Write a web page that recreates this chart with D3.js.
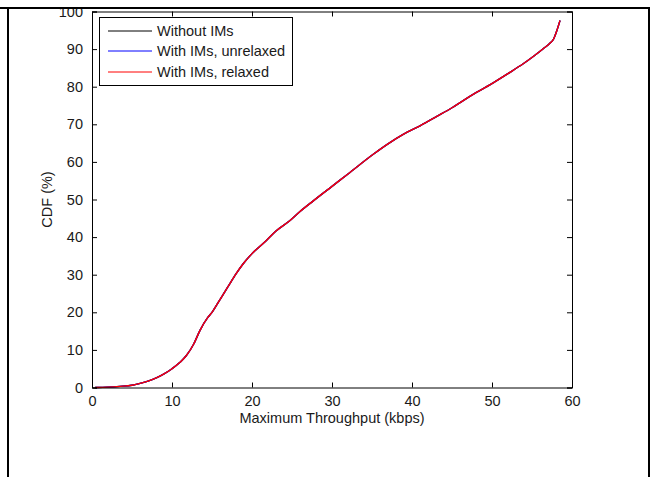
<!DOCTYPE html>
<html>
<head>
<meta charset="utf-8">
<script src="https://cdn.jsdelivr.net/npm/d3@7"></script>
<style>
  body { margin: 0; background: #fff; }
  svg { display: block; font-family: "Liberation Sans", Arial, sans-serif; }
</style>
</head>
<body>
<svg width="650" height="477"></svg>
<script>
// throughput (kbps) sample points and CDF (%) for each case
var throughput = [0.4, 2, 3.5, 5, 6, 7, 8.1, 9, 10, 11, 11.8, 12.7, 13.5, 14.5, 15, 16, 17, 18, 18.9, 20, 21.8, 23, 24.75, 26, 27.7, 30, 32, 35.2, 37, 38.9, 41, 43.1, 45, 46.4, 48, 50.2, 52, 53.9, 55.2, 56.4, 57.2, 57.7, 58.1, 58.5];
var cdfWithout = [0, 0.1, 0.3, 0.6, 1.1, 1.7, 2.6, 3.6, 5, 6.7, 8.5, 11.5, 15.2, 18.7, 20, 23.4, 26.8, 30.2, 32.9, 35.6, 39.1, 41.6, 44.4, 46.8, 49.7, 53.5, 56.8, 62.1, 64.8, 67.3, 69.6, 72.1, 74.4, 76.3, 78.4, 81.1, 83.5, 86.1, 88.1, 90.1, 91.5, 92.7, 94.9, 97.6];
var cdfUnrelaxed = [0, 0.1, 0.3, 0.6, 1.1, 1.7, 2.6, 3.6, 5, 6.7, 8.5, 11.5, 15.2, 18.7, 20, 23.4, 26.8, 30.2, 32.9, 35.6, 39.1, 41.6, 44.4, 46.8, 49.7, 53.5, 56.8, 62.1, 64.8, 67.3, 69.6, 72.1, 74.4, 76.3, 78.4, 81.1, 83.5, 86.1, 88.1, 90.1, 91.5, 92.7, 94.9, 97.6];
var cdfRelaxed = [0, 0.1, 0.3, 0.6, 1.1, 1.7, 2.6, 3.6, 5, 6.7, 8.5, 11.5, 15.2, 18.7, 20, 23.4, 26.8, 30.2, 32.9, 35.6, 39.1, 41.6, 44.4, 46.8, 49.7, 53.5, 56.8, 62.1, 64.8, 67.3, 69.6, 72.1, 74.4, 76.3, 78.4, 81.1, 83.5, 86.1, 88.1, 90.1, 91.5, 92.7, 94.9, 97.6];

var seriesNames = ["Without IMs", "With IMs, unrelaxed", "With IMs, relaxed"];
var seriesColors = ["#000000", "#0000ff", "#ff0000"];
var xTicks = [0, 10, 20, 30, 40, 50, 60];
var yTicks = [0, 10, 20, 30, 40, 50, 60, 70, 80, 90, 100];

function drawChart() {
  var svg = d3.select("svg");
  var fontSize = "14.5px";
  var left = 92, right = 572, plotTop = 11.5, bottom = 387.5;

  var x = d3.scaleLinear().domain([0, 60]).range([left, right]);
  var y = d3.scaleLinear().domain([0, 100]).range([bottom, plotTop]);

  var g = svg.append("g");

  // curves, drawn in order so the red one ends up on top
  var series = [cdfWithout, cdfUnrelaxed, cdfRelaxed];
  var line = d3.line()
      .curve(d3.curveMonotoneX)
      .x(function(d) { return x(d[0]); })
      .y(function(d) { return y(d[1]); });

  series.forEach(function(s, i) {
    g.append("path")
        .datum(throughput.map(function(t, j) { return [t, s[j]]; }))
        .attr("d", line)
        .attr("fill", "none")
        .attr("stroke", seriesColors[i])
        .attr("stroke-width", 1.4);
  });

  // axes, matlab style: ticks inward on all sides
  var tickLen = 5;
  var xAxisB = d3.axisBottom(x).tickValues(xTicks).tickSize(-tickLen).tickPadding(tickLen + 3);
  var xAxisT = d3.axisTop(x).tickValues(xTicks).tickSize(-tickLen).tickFormat("");
  var yAxisL = d3.axisLeft(y).tickValues(yTicks).tickSize(-tickLen).tickPadding(tickLen + 4);
  var yAxisR = d3.axisRight(y).tickValues(yTicks).tickSize(-tickLen).tickFormat("");

  function styleAxis(sel) {
    sel.select(".domain").attr("stroke", "#000").attr("stroke-width", 1);
    sel.selectAll(".tick line").attr("stroke", "#000");
    sel.selectAll("text").attr("fill", "#1a1a1a").style("font-size", fontSize)
       .style("font-family", "'Liberation Sans', Arial, sans-serif");
  }

  g.append("g").attr("transform", "translate(0," + bottom + ")").call(xAxisB).call(styleAxis);
  g.append("g").attr("transform", "translate(0," + plotTop + ")").call(xAxisT).call(styleAxis);
  g.append("g").attr("transform", "translate(" + left + ",0)").call(yAxisL).call(styleAxis);
  g.append("g").attr("transform", "translate(" + right + ",0)").call(yAxisR).call(styleAxis);

  // axis labels
  g.append("text")
      .attr("x", (left + right) / 2)
      .attr("y", 423)
      .attr("text-anchor", "middle")
      .style("font-size", fontSize)
      .attr("fill", "#1a1a1a")
      .text("Maximum Throughput (kbps)");

  g.append("text")
      .attr("transform", "translate(52," + ((plotTop + bottom) / 2) + ") rotate(-90)")
      .attr("text-anchor", "middle")
      .style("font-size", fontSize)
      .attr("fill", "#1a1a1a")
      .text("CDF (%)");

  // legend
  var lg = g.append("g");
  lg.append("rect")
      .attr("x", 99.5).attr("y", 17.5)
      .attr("width", 193).attr("height", 68)
      .attr("fill", "#fff").attr("stroke", "#000").attr("stroke-width", 1);

  var rowY = [31, 51, 72];
  seriesNames.forEach(function(name, i) {
    var ly = rowY[i];
    lg.append("line")
        .attr("x1", 108).attr("x2", 152)
        .attr("y1", ly).attr("y2", ly)
        .attr("stroke", seriesColors[i])
        .attr("stroke-width", 1);
    lg.append("text")
        .attr("x", 157)
        .attr("y", ly + 5)
        .style("font-size", fontSize)
        .attr("fill", "#1a1a1a")
        .text(name);
  });

  // page frame (the figure is cropped at the top)
  svg.append("rect").attr("x", 0).attr("y", 0).attr("width", 650).attr("height", 7).attr("fill", "#fff");
  svg.append("rect").attr("x", 0).attr("y", 7).attr("width", 650).attr("height", 2).attr("fill", "#000");
  svg.append("rect").attr("x", 7).attr("y", 7).attr("width", 2).attr("height", 470).attr("fill", "#000");
  svg.append("rect").attr("x", 648).attr("y", 7).attr("width", 2).attr("height", 470).attr("fill", "#000");
}

drawChart();
</script>
</body>
</html>
